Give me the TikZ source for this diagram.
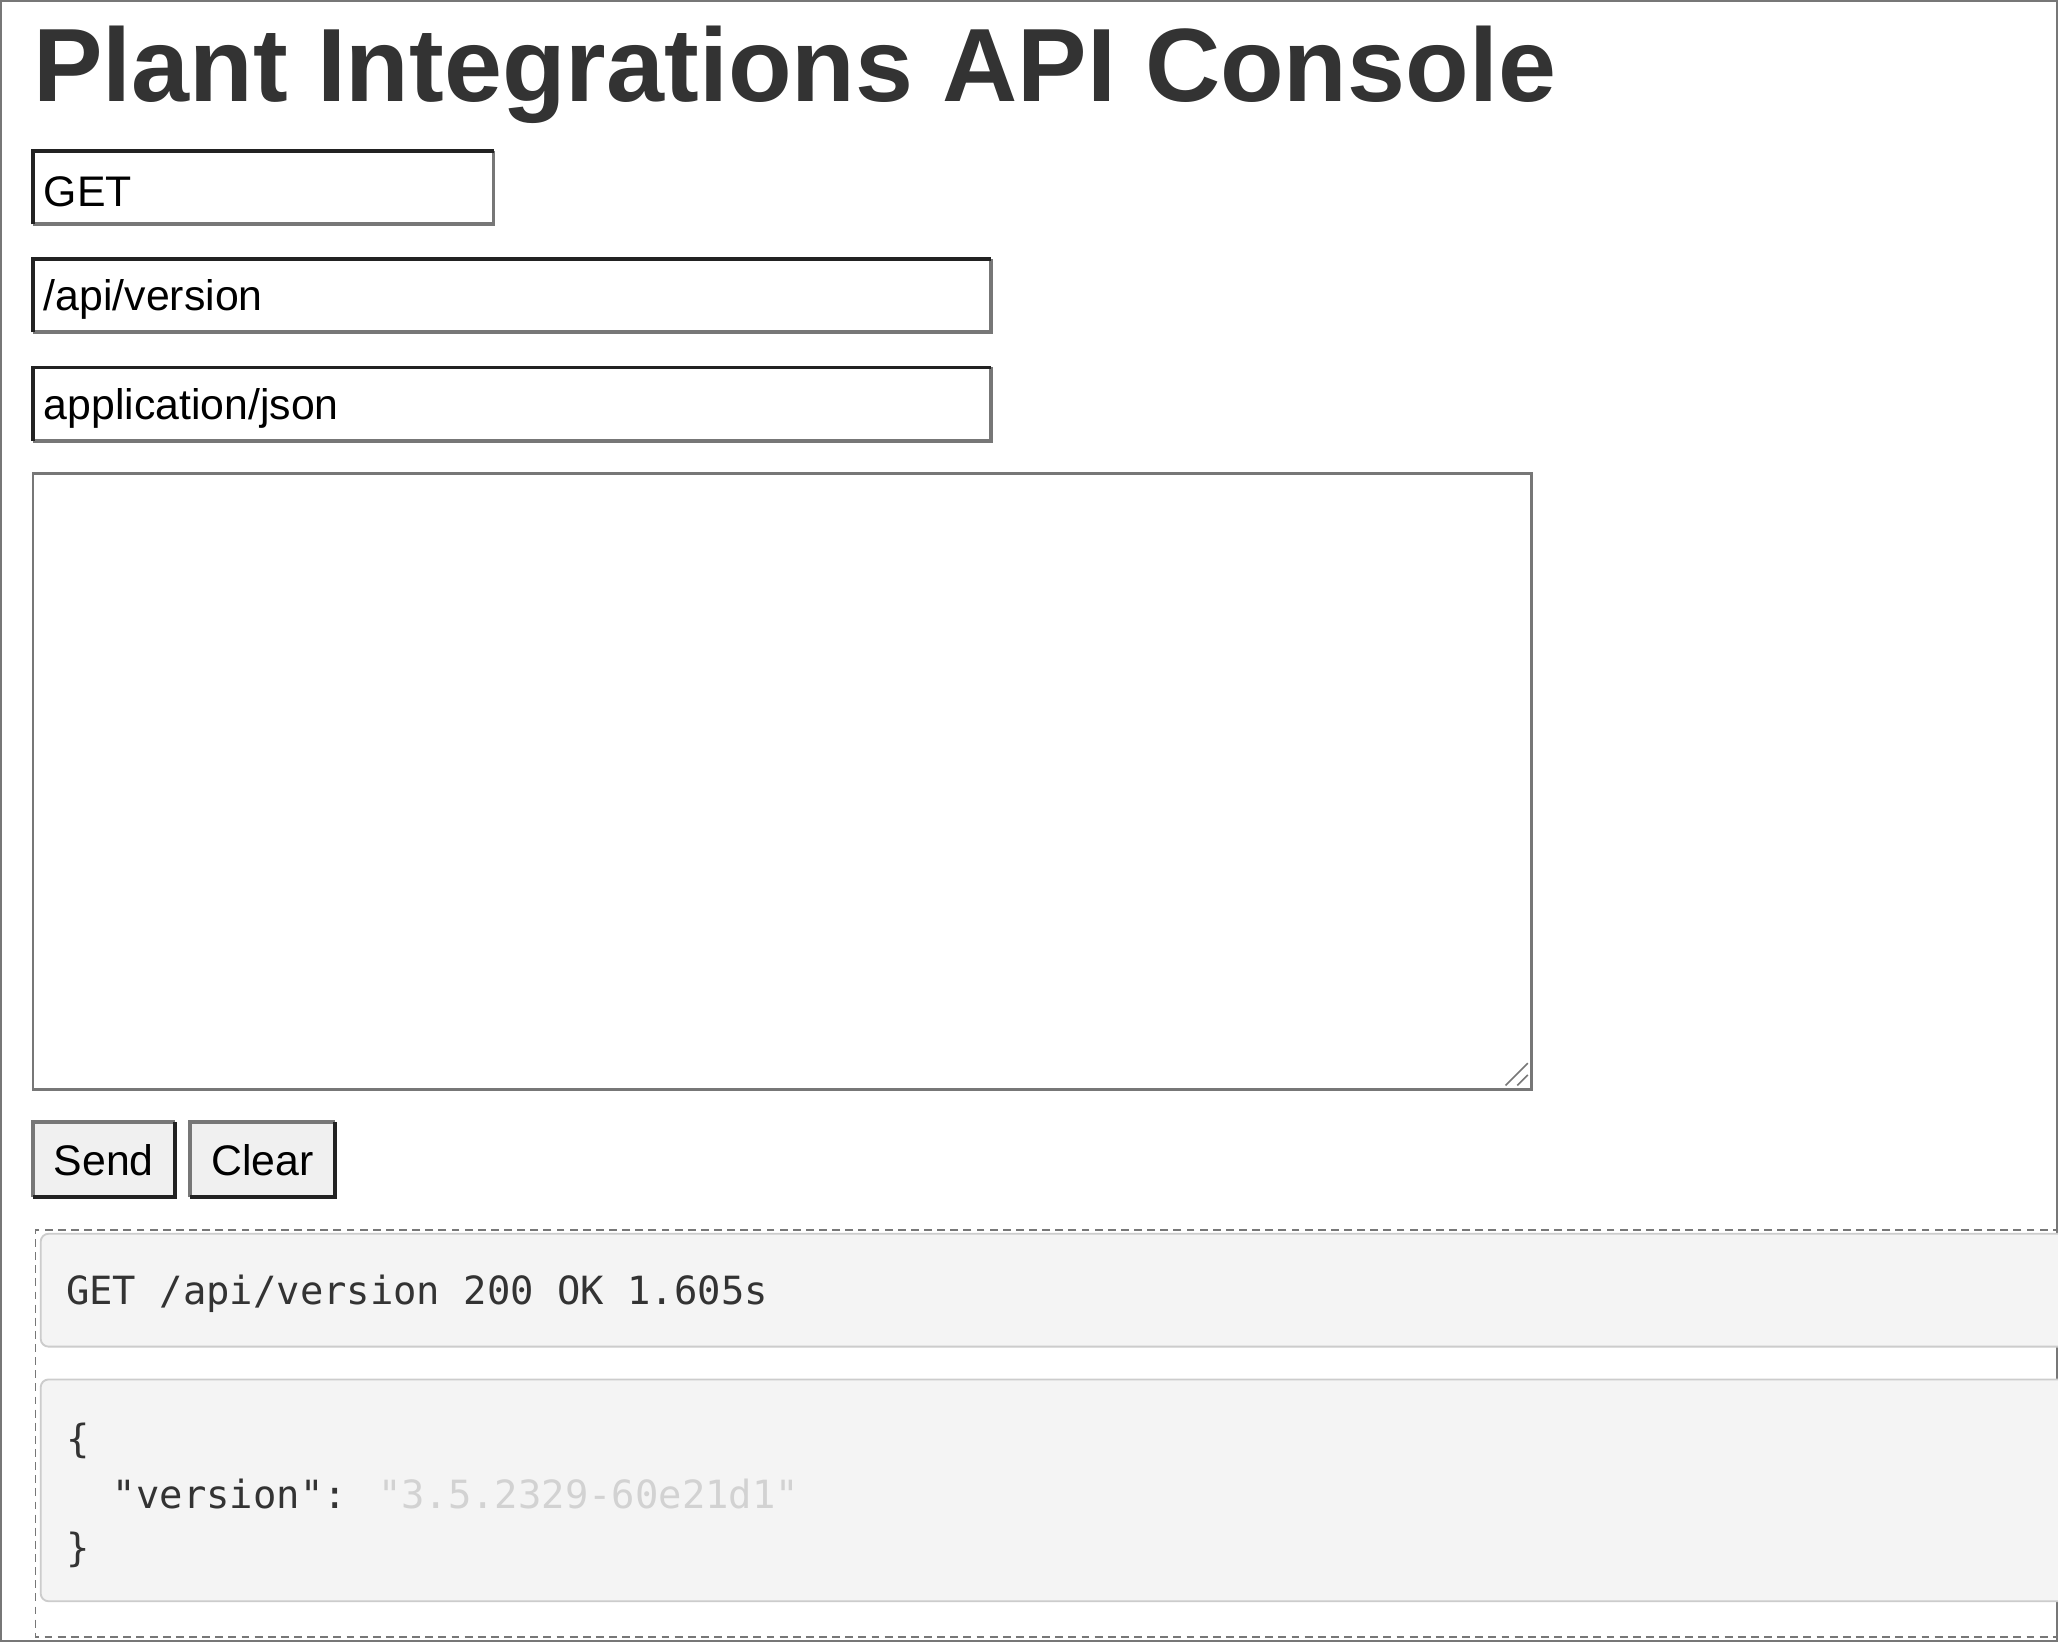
\documentclass[tikz,border=0pt]{standalone}
\usepackage{fontspec}
\setmainfont{Liberation Sans}
\newfontfamily\monof{DejaVu Sans Mono}
\begin{document}
\begin{tikzpicture}[x=0.5pt,y=-0.5pt]
\definecolor{dk}{HTML}{222222}
\definecolor{md}{HTML}{777777}
\definecolor{tt}{HTML}{333333}
\definecolor{pg}{HTML}{F4F4F4}
\tikzset{inp/.style={font=\fontsize{16.3pt}{18pt}\selectfont,anchor=west,inner sep=0}}
\useasboundingbox (0,0) rectangle (1568,1251);
\fill[white] (0,0) rectangle (1568,1251);
\draw[md,line width=0.8pt] (1,1) rectangle (1567,1250);
\node[anchor=base west,inner sep=0,text=tt,font=\fontsize{39.7pt}{44pt}\selectfont\bfseries] (title) at (25,77) {Plant Integrations API Console};
% inputs
\foreach \n/\xa/\ya/\xb/\yb/\t in {m/25/115/376/171/GET,u/25/197/755/253/{/api/version},c/25/280/755/336/{application/json}}{
  \draw[md,line width=1.5pt] (\xa,\yb) -- (\xb,\yb) -- (\xb,\ya);
  \draw[dk,line width=1.5pt] (\xa,\yb) -- (\xa,\ya) -- (\xb,\ya);
  \node[inp] (\n) at (\xa+8,{(\ya+\yb)/2+3}) {\t};
}
% textarea
\draw[md,line width=1pt] (25,361) rectangle (1167,830);
\draw[md,line width=0.6pt] (1147,827) -- (1164,810) (1156,827) -- (1164,819);
% buttons
\foreach \n/\xa/\xb/\t in {send/25/133/Send,clear/145/255/Clear}{
  \fill[gray!12] (\xa,855) rectangle (\xb,912);
  \draw[md,line width=1.5pt] (\xa,912) -- (\xa,855) -- (\xb,855);
  \draw[dk,line width=1.5pt] (\xa,912) -- (\xb,912) -- (\xb,855);
  \node[font=\fontsize{16.3pt}{18pt}\selectfont,inner sep=0] (\n) at ({(\xa+\xb)/2},884) {\t};
}
% output
\draw[md,dashed,line width=0.7pt,dash pattern=on 3pt off 2pt] (1570,937) -- (27,937) -- (27,1247) -- (1570,1247);
\draw[gray!40,fill=pg,rounded corners=3pt,line width=0.7pt] (1575,940) -- (31,940) -- (31,1026) -- (1575,1026);
\node[anchor=west,inner sep=0,text=tt,font=\monof\fontsize{14.8pt}{17pt}\selectfont] (status) at (50,986) {GET /api/version 200 OK 1.605s};
\draw[gray!40,fill=pg,rounded corners=3pt,line width=0.7pt] (1575,1051) -- (31,1051) -- (31,1220) -- (1575,1220);
\node[anchor=west,inner sep=0,text=tt,font=\monof\fontsize{14.8pt}{17pt}\selectfont] (l1) at (50,1098) {\{};
\node[anchor=west,inner sep=0,text=tt,font=\monof\fontsize{14.8pt}{17pt}\selectfont] (l2) at (50,1138) {\ \ "version": \textcolor{gray!35}{"3.5.2329-60e21d1"}};
\node[anchor=west,inner sep=0,text=tt,font=\monof\fontsize{14.8pt}{17pt}\selectfont] (l3) at (50,1181) {\}};
\end{tikzpicture}
\end{document}
